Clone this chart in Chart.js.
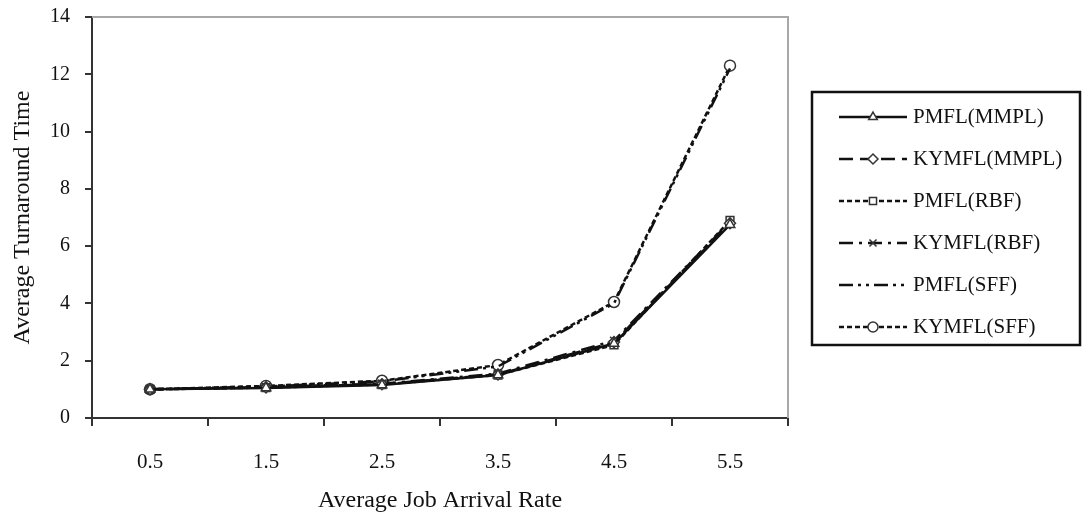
<!DOCTYPE html>
<html>
<head>
<meta charset="utf-8">
<script src="https://cdn.jsdelivr.net/npm/chart.js@4.4.1/dist/chart.umd.min.js"></script>
<style>
  html, body { margin: 0; padding: 0; background: #fff; }
  #wrap { width: 1083px; height: 515px; position: relative; }
</style>
</head>
<body>
<div id="wrap"><canvas id="chart"></canvas></div>
<script>
var arrivalRates = ["0.5", "1.5", "2.5", "3.5", "4.5", "5.5"];
var yTicks = [0, 2, 4, 6, 8, 10, 12, 14];

var pmflMmpl  = [1.0, 1.05, 1.15, 1.50, 2.60, 6.75];
var kymflMmpl = [1.0, 1.07, 1.18, 1.52, 2.65, 6.80];
var pmflRbf   = [1.0, 1.06, 1.17, 1.50, 2.55, 6.90];
var kymflRbf  = [1.0, 1.08, 1.20, 1.55, 2.70, 6.85];
var pmflSff   = [1.0, 1.10, 1.28, 1.80, 4.00, 12.20];
var kymflSff  = [1.0, 1.12, 1.30, 1.85, 4.05, 12.30];

var serif = "'Liberation Serif', 'DejaVu Serif', serif";

function series(label, data, dash, marker) {
  return {
    label: label,
    data: data,
    borderColor: "#111",
    borderWidth: 2.5,
    borderDash: dash,
    pointStyle: marker || false,
    pointRadius: marker ? 5.5 : 0,
    pointBackgroundColor: "#fff",
    pointBorderColor: "#333",
    pointBorderWidth: 1.5,
    tension: 0,
    fill: false
  };
}

var datasets = [
  series("PMFL(MMPL)", pmflMmpl, [], "triangle"),
  series("KYMFL(MMPL)", kymflMmpl, [14, 7], "rectRot"),
  series("PMFL(RBF)", pmflRbf, [5, 3], "rect"),
  series("KYMFL(RBF)", kymflRbf, [14, 6, 3, 6], "crossRot"),
  series("PMFL(SFF)", pmflSff, [14, 5, 3, 5, 3, 5], false),
  series("KYMFL(SFF)", kymflSff, [5, 3], "circle")
];

// frame lines (top and right of plot) and the boxed legend on the right
var framePlugin = {
  id: "frame",
  afterDraw: function (chart) {
    var ctx = chart.ctx;
    var a = chart.chartArea;
    ctx.save();
    ctx.strokeStyle = "#a8a8a8";
    ctx.lineWidth = 2;
    ctx.beginPath();
    ctx.moveTo(a.left, a.top);
    ctx.lineTo(a.right, a.top);
    ctx.lineTo(a.right, a.bottom);
    ctx.stroke();

    ctx.strokeStyle = "#111";
    ctx.lineWidth = 2.5;
    ctx.strokeRect(812, 92, 268, 253);

    chart.data.datasets.forEach(function (ds, i) {
      var y = 117 + i * 42;
      ctx.strokeStyle = "#111";
      ctx.lineWidth = 2.5;
      ctx.setLineDash(ds.borderDash);
      ctx.beginPath();
      ctx.moveTo(839, y);
      ctx.lineTo(907, y);
      ctx.stroke();
      ctx.setLineDash([]);
      if (ds.pointStyle) {
        ctx.fillStyle = "#fff";
        ctx.strokeStyle = "#333";
        ctx.lineWidth = 1.5;
        Chart.helpers.drawPoint(ctx, { pointStyle: ds.pointStyle, radius: 5, rotation: 0, borderWidth: 1.5 }, 873, y);
      }
      ctx.fillStyle = "#111";
      ctx.font = "21px " + serif;
      ctx.textBaseline = "middle";
      ctx.textAlign = "left";
      ctx.fillText(ds.label, 913, y);
    });
    ctx.restore();
  }
};

new Chart(document.getElementById("chart"), {
  type: "line",
  data: { labels: arrivalRates, datasets: datasets },
  plugins: [framePlugin],
  options: {
    responsive: true,
    maintainAspectRatio: false,
    animation: false,
    layout: { padding: { left: 0, right: 295, top: 17, bottom: 0 } },
    plugins: { legend: { display: false }, tooltip: { enabled: false } },
    scales: {
      x: {
        offset: true,
        afterFit: function (s) { s.height = 97; },
        grid: { offset: true, drawOnChartArea: false, drawTicks: true, tickLength: 8, color: "#333", lineWidth: 2 },
        border: { color: "#333", width: 2 },
        ticks: { color: "#111", padding: 24, font: { family: serif, size: 21 } },
        title: { display: true, text: "Average Job Arrival Rate", color: "#111", font: { family: serif, size: 24 }, padding: { top: 10, bottom: 0 } }
      },
      y: {
        min: 0,
        max: 14,
        afterFit: function (s) { s.width = 92; s.paddingTop = 0; s.paddingBottom = 0; },
        afterBuildTicks: function (s) { s.ticks = yTicks.map(function (v) { return { value: v }; }); },
        grid: { drawOnChartArea: false, drawTicks: true, tickLength: 7, color: "#333", lineWidth: 2 },
        border: { color: "#333", width: 2 },
        ticks: { color: "#111", padding: 15, font: { family: serif, size: 20 } },
        title: { display: true, text: "Average Turnaround Time", color: "#111", font: { family: serif, size: 24 }, padding: { top: 8, bottom: 0 } }
      }
    }
  }
});
</script>
</body>
</html>
